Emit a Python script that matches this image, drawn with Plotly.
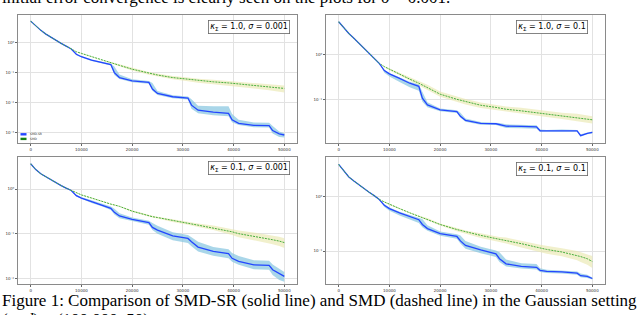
import plotly.graph_objects as go

# ---------------- data ----------------
X = [0, 1000, 2000, 3000, 4000, 5000, 6000, 7000, 8000, 9000, 10000, 12000, 14000,
     15800, 16500, 17500, 20000, 23300, 24000, 25000, 28000, 31000, 31700, 33000,
     36000, 39000, 39700, 41000, 44000, 47000, 47700, 49000, 50000]

# panel 1: kappa=1.0, sigma=0.001
p1_smdsr = [5.3, 3.6, 2.6, 1.95, 1.5, 1.2, 0.95, 0.77, 0.62, 0.41, 0.34, 0.26, 0.215,
            0.185, 0.10, 0.068, 0.053, 0.047, 0.028, 0.020, 0.0155, 0.014, 0.0081, 0.0055,
            0.0047, 0.0043, 0.0026, 0.0020, 0.0017, 0.00166, 0.00114, 0.00088, 0.00081]
p1_smd = [5.3, 3.6, 2.6, 1.95, 1.5, 1.2, 0.95, 0.77, 0.62, 0.5, 0.44, 0.34, 0.26,
          0.215, 0.2, 0.175, 0.13, 0.095, 0.09, 0.083, 0.068, 0.06, 0.059, 0.054,
          0.049, 0.045, 0.044, 0.042, 0.037, 0.033, 0.032, 0.031, 0.0295]
p1_smdsr_up = [0, 0, 0, 0, 0, 0, 0, 0, 0, 0.02, 0.02, 0.02, 0.02, 0.03, 0.2, 0.1, 0.05, 0.05,
               0.2, 0.08, 0.05, 0.05, 0.2, 0.15, 0.2, 0.24, 0.2, 0.12, 0.1, 0.1, 0.15, 0.08, 0.06]
p1_smdsr_dn = [0, 0, 0, 0, 0, 0, 0, 0, 0, 0.03, 0.03, 0.03, 0.03, 0.03, 0.08, 0.05, 0.05, 0.05,
               0.06, 0.05, 0.05, 0.05, 0.12, 0.1, 0.1, 0.1, 0.08, 0.06, 0.06, 0.06, 0.1, 0.1, 0.08]
p1_smd_up = [0, 0, 0, 0, 0, 0, 0, 0, 0, 0.01, 0.01, 0.01, 0.01, 0.02, 0.02, 0.02, 0.03, 0.04,
             0.04, 0.05, 0.05, 0.06, 0.06, 0.06, 0.07, 0.07, 0.07, 0.07, 0.08, 0.09, 0.09, 0.1, 0.1]
p1_smd_dn = [0, 0, 0, 0, 0, 0, 0, 0, 0, 0.01, 0.01, 0.01, 0.02, 0.02, 0.02, 0.03, 0.04, 0.05,
             0.05, 0.06, 0.06, 0.07, 0.07, 0.07, 0.08, 0.09, 0.09, 0.09, 0.1, 0.11, 0.12, 0.13, 0.14]

# panel 2: kappa=1.0, sigma=0.1
p2_smdsr = [5.5, 4.0, 3.0, 2.35, 1.8, 1.4, 1.09, 0.84, 0.65, 0.45, 0.38, 0.30, 0.235,
            0.2, 0.109, 0.077, 0.06, 0.055, 0.043, 0.035, 0.030, 0.0294, 0.028, 0.026,
            0.0256, 0.025, 0.0205, 0.0205, 0.021, 0.0205, 0.016, 0.018, 0.0188]
p2_smd = [5.5, 4.0, 3.0, 2.35, 1.8, 1.4, 1.09, 0.84, 0.65, 0.55, 0.48, 0.38, 0.29,
          0.235, 0.215, 0.19, 0.134, 0.103, 0.098, 0.091, 0.076, 0.068, 0.066, 0.062,
          0.057, 0.052, 0.051, 0.049, 0.044, 0.041, 0.040, 0.038, 0.036]
p2_smdsr_up = [0, 0, 0, 0, 0, 0, 0, 0, 0, 0.02, 0.02, 0.02, 0.03, 0.04, 0.15, 0.06, 0.03, 0.03,
               0.08, 0.04, 0.03, 0.03, 0.04, 0.04, 0.04, 0.04, 0.03, 0.02, 0.02, 0.02, 0.03, 0.02, 0.02]
p2_smdsr_dn = [0, 0, 0, 0, 0, 0, 0, 0, 0, 0.05, 0.06, 0.08, 0.09, 0.1, 0.08, 0.05, 0.03, 0.03,
               0.03, 0.03, 0.03, 0.03, 0.03, 0.04, 0.04, 0.04, 0.02, 0.02, 0.02, 0.02, 0.02, 0.02, 0.02]
p2_smd_up = [0, 0, 0, 0, 0, 0, 0, 0, 0, 0.01, 0.02, 0.03, 0.04, 0.05, 0.05, 0.06, 0.06, 0.06,
             0.06, 0.06, 0.06, 0.06, 0.06, 0.06, 0.07, 0.07, 0.07, 0.07, 0.07, 0.08, 0.08, 0.08, 0.08]
p2_smd_dn = [0, 0, 0, 0, 0, 0, 0, 0, 0, 0.01, 0.02, 0.03, 0.04, 0.05, 0.05, 0.06, 0.06, 0.06,
             0.06, 0.06, 0.06, 0.06, 0.06, 0.06, 0.07, 0.07, 0.07, 0.07, 0.07, 0.08, 0.08, 0.08, 0.08]

# panel 3: kappa=0.1, sigma=0.001
p3_smdsr = [3.7, 2.74, 2.2, 1.87, 1.6, 1.39, 1.2, 1.05, 0.93, 0.71, 0.63, 0.525, 0.44,
            0.37, 0.30, 0.25, 0.21, 0.177, 0.138, 0.12, 0.089, 0.078, 0.066, 0.05,
            0.04, 0.0355, 0.028, 0.024, 0.020, 0.0195, 0.0155, 0.0126, 0.011]
p3_smd = [3.7, 2.74, 2.2, 1.87, 1.6, 1.39, 1.2, 1.05, 0.93, 0.81, 0.74, 0.63, 0.525,
          0.46, 0.44, 0.41, 0.32, 0.25, 0.24, 0.23, 0.195, 0.17, 0.165, 0.155,
          0.135, 0.114, 0.11, 0.10, 0.088, 0.076, 0.073, 0.068, 0.063]
p3_smdsr_up = [0, 0, 0, 0, 0, 0, 0, 0, 0, 0.02, 0.02, 0.03, 0.03, 0.04, 0.08, 0.06, 0.04, 0.04,
               0.1, 0.1, 0.08, 0.08, 0.1, 0.12, 0.1, 0.1, 0.12, 0.12, 0.1, 0.1, 0.12, 0.12, 0.1]
p3_smdsr_dn = [0, 0, 0, 0, 0, 0, 0, 0, 0, 0.02, 0.02, 0.03, 0.03, 0.04, 0.05, 0.05, 0.04, 0.05,
               0.06, 0.08, 0.1, 0.1, 0.1, 0.1, 0.1, 0.1, 0.08, 0.08, 0.1, 0.1, 0.12, 0.14, 0.12]
p3_smd_up = [0, 0, 0, 0, 0, 0, 0, 0, 0, 0.01, 0.01, 0.01, 0.01, 0.01, 0.01, 0.01, 0.02, 0.02,
             0.02, 0.02, 0.03, 0.03, 0.03, 0.04, 0.05, 0.06, 0.06, 0.07, 0.08, 0.09, 0.09, 0.1, 0.1]
p3_smd_dn = [0, 0, 0, 0, 0, 0, 0, 0, 0, 0.01, 0.01, 0.01, 0.01, 0.01, 0.01, 0.01, 0.02, 0.02,
             0.02, 0.02, 0.03, 0.03, 0.03, 0.04, 0.05, 0.06, 0.07, 0.08, 0.09, 0.1, 0.1, 0.11, 0.12]

# panel 4: kappa=0.1, sigma=0.1
p4_smdsr = [4.0, 3.0, 2.35, 1.98, 1.67, 1.43, 1.22, 1.06, 0.9, 0.7, 0.61, 0.51, 0.44,
            0.38, 0.31, 0.26, 0.21, 0.186, 0.154, 0.127, 0.105, 0.089, 0.072, 0.058,
            0.052, 0.05, 0.044, 0.042, 0.041, 0.039, 0.035, 0.034, 0.031]
p4_smd = [4.0, 3.0, 2.35, 1.98, 1.67, 1.43, 1.22, 1.06, 0.9, 0.81, 0.73, 0.61, 0.51,
          0.44, 0.42, 0.39, 0.31, 0.25, 0.24, 0.225, 0.195, 0.17, 0.165, 0.158,
          0.137, 0.118, 0.114, 0.107, 0.096, 0.083, 0.079, 0.072, 0.064]
p4_smdsr_up = [0, 0, 0, 0, 0, 0, 0, 0, 0, 0.02, 0.02, 0.02, 0.02, 0.03, 0.1, 0.06, 0.04, 0.04,
               0.1, 0.08, 0.06, 0.06, 0.12, 0.08, 0.06, 0.06, 0.04, 0.03, 0.03, 0.03, 0.04, 0.03, 0.02]
p4_smdsr_dn = [0, 0, 0, 0, 0, 0, 0, 0, 0, 0.03, 0.04, 0.05, 0.06, 0.06, 0.05, 0.04, 0.04, 0.04,
               0.05, 0.06, 0.06, 0.06, 0.06, 0.05, 0.04, 0.04, 0.03, 0.03, 0.03, 0.03, 0.03, 0.03, 0.02]
p4_smd_up = [0, 0, 0, 0, 0, 0, 0, 0, 0, 0.01, 0.01, 0.01, 0.01, 0.01, 0.01, 0.02, 0.02, 0.03,
             0.03, 0.03, 0.04, 0.04, 0.04, 0.05, 0.06, 0.06, 0.06, 0.07, 0.07, 0.08, 0.08, 0.09, 0.1]
p4_smd_dn = [0, 0, 0, 0, 0, 0, 0, 0, 0, 0.01, 0.01, 0.01, 0.01, 0.01, 0.01, 0.02, 0.02, 0.03,
             0.03, 0.04, 0.05, 0.05, 0.05, 0.06, 0.07, 0.07, 0.07, 0.08, 0.08, 0.09, 0.1, 0.11, 0.12]

panel_labels = ["<i>κ</i><sub>Σ</sub> = 1.0, <i>σ</i> = 0.001", "<i>κ</i><sub>Σ</sub> = 1.0, <i>σ</i> = 0.1",
                "<i>κ</i><sub>Σ</sub> = 0.1, <i>σ</i> = 0.001", "<i>κ</i><sub>Σ</sub> = 0.1, <i>σ</i> = 0.1"]
x_ticks = [0, 10000, 20000, 30000, 40000, 50000]
series_names = ["SMD-SR", "SMD"]

# ---------------- styling / layout ----------------
W, H = 640, 315
BLUE = "rgb(35,70,255)"
GREEN = "rgb(70,175,60)"
BLUE_BAND = "rgba(140,200,225,0.75)"
GREEN_BAND = "rgba(232,230,170,0.6)"

panels = [
    dict(s=p1_smdsr, m=p1_smd, su=p1_smdsr_up, sd=p1_smdsr_dn, mu=p1_smd_up, md=p1_smd_dn,
         px=(18, 297), py=(15, 143), yr=[-3.36, 0.93], yt=[1, 0.1, 0.01, 0.001]),
    dict(s=p2_smdsr, m=p2_smd, su=p2_smdsr_up, sd=p2_smdsr_dn, mu=p2_smd_up, md=p2_smd_dn,
         px=(326, 605), py=(15, 143), yr=[-1.96, 0.89], yt=[1, 0.1]),
    dict(s=p3_smdsr, m=p3_smd, su=p3_smdsr_up, sd=p3_smdsr_dn, mu=p3_smd_up, md=p3_smd_dn,
         px=(18, 297), py=(157, 284), yr=[-2.13, 0.72], yt=[1, 0.1, 0.01]),
    dict(s=p4_smdsr, m=p4_smd, su=p4_smdsr_up, sd=p4_smdsr_dn, mu=p4_smd_up, md=p4_smd_dn,
         px=(326, 605), py=(157, 284), yr=[-1.61, 0.74], yt=[1, 0.1]),
]
box_pos = [(249, 26.5), (551.5, 26.5), (248.5, 167.5), (551.5, 168.5)]

sup = {"0": "⁰", "1": "¹", "2": "²", "3": "³", "-": "⁻"}
def ylab(v):
    import math
    e = int(round(math.log10(v)))
    return "10" + "".join(sup[c] for c in str(e))

fig = go.Figure()
layout = dict(width=W, height=H, margin=dict(l=0, r=0, t=0, b=0, autoexpand=False),
              paper_bgcolor="white", plot_bgcolor="white", showlegend=False)

for i, p in enumerate(panels):
    k = "" if i == 0 else str(i + 1)
    xa, ya = "x" + k, "y" + k
    s_hi = [v * 10 ** u for v, u in zip(p["s"], p["su"])]
    s_lo = [v / 10 ** d for v, d in zip(p["s"], p["sd"])]
    m_hi = [v * 10 ** u for v, u in zip(p["m"], p["mu"])]
    m_lo = [v / 10 ** d for v, d in zip(p["m"], p["md"])]
    fig.add_trace(go.Scatter(x=X, y=m_hi, xaxis=xa, yaxis=ya, mode="lines",
                             line=dict(width=0, color=GREEN_BAND), hoverinfo="skip"))
    fig.add_trace(go.Scatter(x=X, y=m_lo, xaxis=xa, yaxis=ya, mode="lines", fill="tonexty",
                             fillcolor=GREEN_BAND, line=dict(width=0, color=GREEN_BAND), hoverinfo="skip"))
    fig.add_trace(go.Scatter(x=X, y=s_hi, xaxis=xa, yaxis=ya, mode="lines",
                             line=dict(width=0, color=BLUE_BAND), hoverinfo="skip"))
    fig.add_trace(go.Scatter(x=X, y=s_lo, xaxis=xa, yaxis=ya, mode="lines", fill="tonexty",
                             fillcolor=BLUE_BAND, line=dict(width=0, color=BLUE_BAND), hoverinfo="skip"))
    fig.add_trace(go.Scatter(x=X, y=p["s"], xaxis=xa, yaxis=ya, mode="lines", name=series_names[0],
                             line=dict(width=1.3, color=BLUE)))
    fig.add_trace(go.Scatter(x=X, y=p["m"], xaxis=xa, yaxis=ya, mode="lines", name=series_names[1],
                             line=dict(width=1, color=GREEN, dash="2px,1px")))

    x0, x1 = p["px"]
    y0, y1 = p["py"]
    common = dict(showline=True, mirror=True, linecolor="#8a8a8a", linewidth=1,
                  showgrid=True, gridcolor="#e2e2e2", gridwidth=1, zeroline=False,
                  ticks="outside", ticklen=2, tickwidth=0.6, tickcolor="#666", automargin=False,
                  tickfont=dict(size=4, color="#333", family="DejaVu Sans"))
    layout["xaxis" + k] = dict(common, domain=[x0 / W, x1 / W], anchor=ya, range=[-2500, 52500],
                               tickvals=x_ticks, ticktext=[str(t) for t in x_ticks])
    layout["yaxis" + k] = dict(common, domain=[1 - y1 / H, 1 - y0 / H], anchor=xa, type="log",
                               range=p["yr"], tickvals=p["yt"], ticktext=[ylab(v) for v in p["yt"]])

annotations = []
for (bx, by), lab in zip(box_pos, panel_labels):
    annotations.append(dict(x=bx / W, y=1 - by / H, xref="paper", yref="paper", text=lab,
                            showarrow=False, xanchor="center", yanchor="middle",
                            font=dict(size=8, family="DejaVu Sans", color="black"),
                            bgcolor="white", bordercolor="#666", borderwidth=0.8, borderpad=1.5))

# legend (panel 1, lower left)
shapes = []
for j, (nm, col) in enumerate(zip(series_names, [BLUE, "rgb(20,130,20)"])):
    yc = 134.3 + j * 4.6
    shapes.append(dict(type="rect", xref="paper", yref="paper", x0=20.5 / W, x1=26.5 / W,
                       y0=1 - (yc + 1.2) / H, y1=1 - (yc - 1.2) / H, fillcolor=col, line=dict(width=0)))
    annotations.append(dict(x=28 / W, y=1 - yc / H, xref="paper", yref="paper", text=nm,
                            showarrow=False, xanchor="left", yanchor="middle",
                            font=dict(size=3, family="DejaVu Sans", color="#333")))

# surrounding document text
annotations.append(dict(x=0, y=1 - (-3) / H, xref="paper", yref="paper",
                        text="initial error convergence is clearly seen on the plots for <i>σ</i> = 0.001.",
                        showarrow=False, xanchor="left", yanchor="middle",
                        font=dict(size=17, family="Liberation Serif", color="black")))
annotations.append(dict(x=0, y=1 - 300 / H, xref="paper", yref="paper",
                        text="Figure 1: Comparison of SMD-SR (solid line) and SMD (dashed line) in the Gaussian setting",
                        showarrow=False, xanchor="left", yanchor="middle",
                        font=dict(size=17, family="Liberation Serif", color="black")))
annotations.append(dict(x=0, y=1 - 307.5 / H, xref="paper", yref="paper",
                        text="(<i>n</i>, <i>d</i>) = (100 000, 50)",
                        showarrow=False, xanchor="left", yanchor="top",
                        font=dict(size=17, family="Liberation Serif", color="black")))

layout["annotations"] = annotations
layout["shapes"] = shapes
fig.update_layout(**layout)
fig.write_html("out.html", config={"displayModeBar": False},
               post_script="document.body.style.margin='0';document.body.style.overflow='hidden';")
